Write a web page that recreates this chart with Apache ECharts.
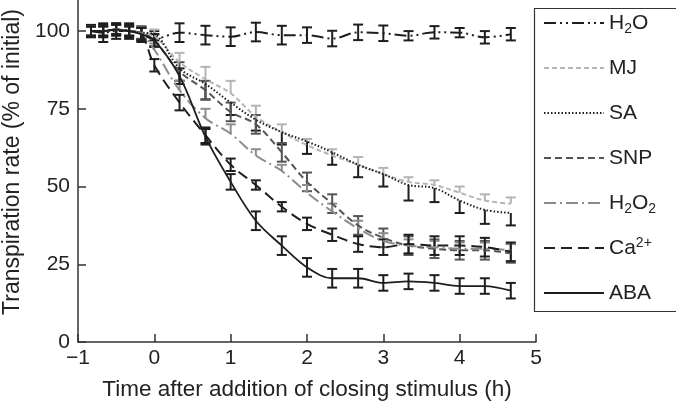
<!DOCTYPE html>
<html>
<head>
<meta charset="utf-8">
<script src="https://cdn.jsdelivr.net/npm/echarts@6/dist/echarts.min.js"></script>
<style>
  html, body { margin: 0; padding: 0; background: #fff; }
  #chart { width: 676px; height: 410px; }
</style>
</head>
<body>
<div id="chart"></div>
<script>
// time points (h) - every 10 min before the stimulus, every 20 min after
const times = [-0.83, -0.67, -0.5, -0.33, -0.17, 0, 0.33, 0.67, 1, 1.33, 1.67, 2, 2.33, 2.67, 3, 3.33, 3.67, 4, 4.33, 4.67];

// transpiration rate, % of initial
const h2o  = [100, 99.5, 100, 100, 99, 97.5, 99.5, 98.7, 98.2, 99.7, 98.7, 98.7, 97.6, 99.6, 99.3, 98.5, 99.6, 99.5, 98, 99];
const mj   = [100, 100, 100.5, 100, 99.5, 98.5, 90, 84.5, 80, 72.5, 67.5, 63.3, 60, 57, 54, 51.5, 50.5, 48, 45.5, 44.5];
const sa   = [100, 100, 100.5, 100, 99.5, 99, 88, 83, 77, 71.5, 67.5, 64.5, 61, 57, 54, 50.5, 49.5, 45.5, 42.5, 41.5];
const snp  = [100, 100, 100.5, 100, 99.5, 97, 87, 81, 74, 70, 61, 51.5, 44.5, 37.5, 33.5, 31, 30, 29.5, 29.5, 28.5];
const h2o2 = [100, 100, 100.5, 100, 99, 94, 81, 72, 67, 60, 55, 48, 42, 36.5, 32.5, 31, 30.5, 30, 30, 29.5];
const ca   = [100, 100, 100.5, 100, 99, 89, 77, 66.5, 57, 50.5, 43.5, 38, 34.5, 31.5, 30.5, 31.5, 31, 31, 30.5, 29];
const aba  = [100, 100, 100.5, 100, 99, 97, 85.5, 66, 51.5, 39, 31, 24, 20.5, 20.5, 19, 19.5, 19, 18, 18, 16.5];

// error bar half lengths
const h2oErr  = [2, 3, 2.5, 2.5, 2.5, 2.5, 3, 3, 3, 3, 3, 2.5, 2.5, 2.5, 2.5, 1.5, 2, 1.5, 2, 2];
const mjErr   = [1.5, 1.5, 1.5, 1.5, 2, 2, 3, 4, 4, 3.5, 2.5, 2, 2, 2.5, 2, 1.5, 1.5, 2, 2, 2];
const saErr   = [1.5, 1.5, 1.5, 1.5, 2, 2, 4, 5, 4, 3.5, 4, 4, 4, 4, 4, 5, 4.5, 4, 4.5, 4];
const snpErr  = [1.5, 1.5, 1.5, 1.5, 2, 2, 3, 3, 3, 3, 3, 3, 3, 3, 3, 3, 3, 3, 3, 3];
const h2o2Err = [1.5, 1.5, 1.5, 1.5, 2, 2, 3, 3, 3, 2, 2, 2.5, 2.5, 2.5, 2.5, 2, 2, 2, 2, 2];
const caErr   = [1.5, 1.5, 1.5, 1.5, 2, 2, 2.5, 2.5, 2, 1.5, 1.5, 2, 2, 2.5, 2.5, 3, 3, 3, 3, 3];
const abaErr  = [1.5, 2, 2, 2, 2, 2, 2.5, 2.5, 2.5, 3, 3, 3, 3, 3, 2.5, 2.5, 2.5, 2.5, 2.5, 2.5];

const yTicks = [0, 25, 50, 75, 100];

const FONT = 'Liberation Sans, Arial, Helvetica, sans-serif';
const BLACK = '#1e1e1e';

const chart = echarts.init(document.getElementById('chart'));

// one line + its error bars
const groups = [
  { name: 'H2O',  vals: h2o,  errs: h2oErr,  color: BLACK,     dash: [12, 4, 2, 4, 2, 4], w: 2,   dir: 'both' },
  { name: 'MJ',   vals: mj,   errs: mjErr,   color: '#b4b4b4', dash: [5, 3],             w: 2,   dir: 'up' },
  { name: 'SA',   vals: sa,   errs: saErr,   color: BLACK,     dash: [1.5, 2],           w: 2,   dir: 'down' },
  { name: 'SNP',  vals: snp,  errs: snpErr,  color: '#555555', dash: [7, 4],             w: 2,   dir: 'both' },
  { name: 'H2O2', vals: h2o2, errs: h2o2Err, color: '#8c8c8c', dash: [12, 4, 2, 4],      w: 2,   dir: 'up' },
  { name: 'Ca2+', vals: ca,   errs: caErr,   color: BLACK,     dash: [11, 6],            w: 2,   dir: 'both' },
  { name: 'ABA',  vals: aba,  errs: abaErr,  color: BLACK,     dash: 'solid',            w: 1.8, dir: 'both' }
];

function errorBars(g) {
  return {
    type: 'custom',
    name: g.name + ' err',
    silent: true,
    z: 3,
    renderItem: function (params, api) {
      const x = api.value(0), y = api.value(1), e = api.value(2);
      const up = g.dir === 'down' ? 0 : e;
      const dn = g.dir === 'up' ? 0 : e;
      const top = api.coord([x, y + up]);
      const bot = api.coord([x, y - dn]);
      const hw = 5;
      const style = { stroke: g.color, lineWidth: 2 };
      const kids = [{ type: 'line', shape: { x1: top[0], y1: top[1], x2: bot[0], y2: bot[1] }, style: style }];
      if (up > 0) kids.push({ type: 'line', shape: { x1: top[0] - hw, y1: top[1], x2: top[0] + hw, y2: top[1] }, style: style });
      if (dn > 0) kids.push({ type: 'line', shape: { x1: bot[0] - hw, y1: bot[1], x2: bot[0] + hw, y2: bot[1] }, style: style });
      return { type: 'group', children: kids };
    },
    data: times.map((t, i) => [t, g.vals[i], g.errs[i]])
  };
}

const series = [];
groups.forEach(g => {
  series.push({
    type: 'line',
    name: g.name,
    data: times.map((t, i) => [t, g.vals[i]]),
    smooth: 0.35,
    symbol: 'none',
    z: 4,
    lineStyle: { color: g.color, width: g.w, type: g.dash },
    itemStyle: { color: g.color }
  });
  series.push(errorBars(g));
});

const legendText = {
  'H2O': 'H{s|2}O',
  'H2O2': 'H{s|2}O{s|2}',
  'Ca2+': 'Ca{p|2+}'
};

const option = {
  animation: false,
  backgroundColor: '#fff',
  textStyle: { fontFamily: FONT },
  grid: { left: 78, right: 140, top: 0, bottom: 68, outerBoundsMode: 'none' },
  xAxis: {
    type: 'value',
    min: -1, max: 5, interval: 1,
    name: 'Time after addition of closing stimulus (h)',
    nameLocation: 'middle',
    nameGap: 36,
    nameTextStyle: { fontSize: 22.5, color: '#222', fontFamily: FONT },
    splitLine: { show: false },
    axisLine: { lineStyle: { color: '#333', width: 1.5 } },
    axisTick: { inside: true, length: 8, lineStyle: { color: '#333', width: 1.5 } },
    axisLabel: {
      fontSize: 21, color: '#222', margin: 6, fontFamily: FONT,
      formatter: v => v < 0 ? '\u2212' + Math.abs(v) : String(v)
    }
  },
  yAxis: {
    type: 'value',
    min: 0, max: 110,
    name: 'Transpiration rate (% of initial)',
    nameLocation: 'middle',
    nameGap: 54,
    nameTextStyle: { fontSize: 23, color: '#222', fontFamily: FONT, padding: [0, 0, 0, 18] },
    splitLine: { show: false },
    axisLine: { onZero: false, lineStyle: { color: '#333', width: 1.5 } },
    axisTick: { inside: true, length: 8, customValues: yTicks, lineStyle: { color: '#333', width: 1.5 } },
    axisLabel: { fontSize: 21, color: '#222', margin: 8, fontFamily: FONT, customValues: yTicks }
  },
  legend: {
    data: groups.map(g => g.name),
    orient: 'vertical',
    left: 543,
    top: 10,
    itemWidth: 60,
    itemHeight: 14,
    itemGap: 19,
    padding: 0,
    selectedMode: false,
    itemStyle: { opacity: 0 },
    formatter: name => legendText[name] || name,
    textStyle: {
      fontSize: 21, color: '#222', fontFamily: FONT, lineHeight: 26,
      rich: {
        s: { fontSize: 14, fontFamily: FONT, color: '#222', padding: [12, 0, 0, 0] },
        p: { fontSize: 14, fontFamily: FONT, color: '#222', padding: [0, 0, 10, 0] }
      }
    }
  },
  graphic: [{
    type: 'rect',
    left: 532, top: 6,
    shape: { width: 143, height: 303 },
    style: { fill: 'none', stroke: '#333', lineWidth: 1.2 },
    silent: true
  }],
  series: series
};

chart.setOption(option);
</script>
</body>
</html>
